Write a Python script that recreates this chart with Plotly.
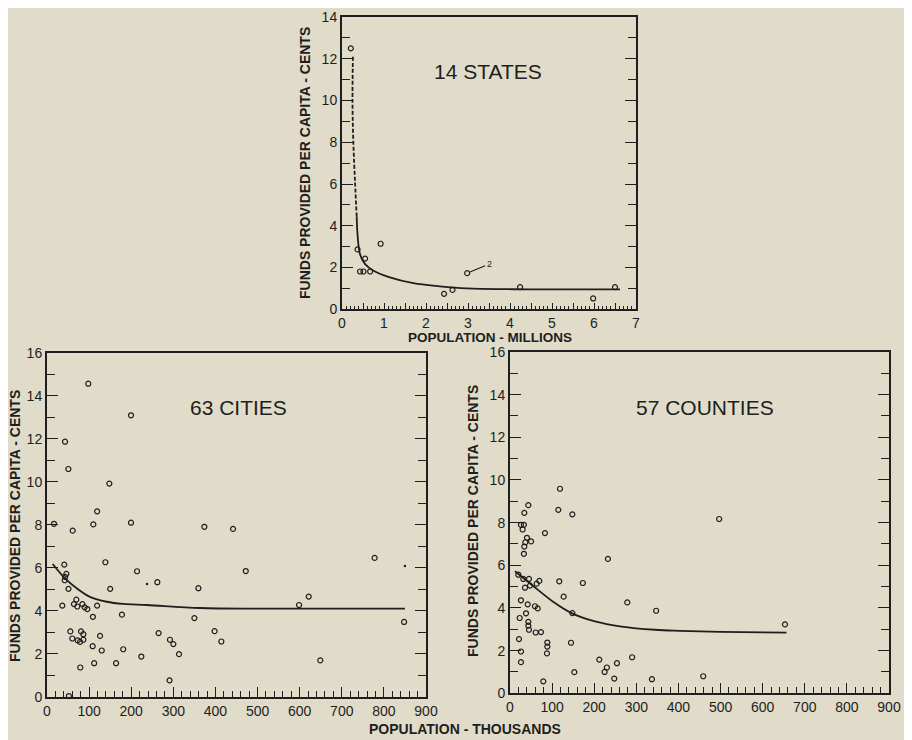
import plotly.graph_objects as go

# ---------------- data ----------------
# 14 States (population in millions, funds in cents per capita)
states_x = [0.21, 0.37, 0.55, 0.43, 0.51, 0.67, 0.92, 2.43, 2.63, 2.98, 4.24, 6.50, 5.98]
states_y = [12.5, 2.87, 2.43, 1.81, 1.81, 1.81, 3.14, 0.74, 0.93, 1.73, 1.06, 1.06, 0.52]
states_fit_dash_x = [0.26, 0.25, 0.27, 0.31, 0.35]
states_fit_dash_y = [12.1, 9.9, 8.0, 6.1, 4.45]
states_fit_x = [0.35, 0.37, 0.43, 0.55, 0.75, 1.14, 1.70, 2.33, 2.97, 4.08, 5.00, 6.62]
states_fit_y = [4.45, 3.58, 2.63, 2.16, 1.85, 1.53, 1.25, 1.10, 1.00, 0.96, 0.95, 0.95]

# 63 Cities (population in thousands)
cities_x = [98, 199.5, 42.8, 50.7, 148, 119, 16.6, 110, 199.5, 61, 373.7, 138.6, 213.8,
            41, 46, 43, 42, 51, 150, 262, 359.5, 36.4, 64, 69.7, 72, 84, 89.5, 95.8,
            119, 109, 178, 350, 55.4, 80.8, 86.3, 60.2, 72.8, 78.4, 86.3, 126, 265,
            108.5, 130, 181, 292, 300, 313.5, 224, 112, 164, 79, 291, 52, 398, 414,
            441.8, 472, 598.6, 621.5, 649, 778, 848]
cities_y = [14.57, 13.1, 11.87, 10.6, 9.92, 8.63, 8.05, 8.02, 8.1, 7.73, 7.91, 6.26, 5.84,
            6.15, 5.72, 5.58, 5.42, 5.02, 5.02, 5.33, 5.05, 4.24, 4.31, 4.52, 4.2, 4.31,
            4.16, 4.08, 4.24, 3.72, 3.82, 3.66, 3.04, 3.04, 2.91, 2.71, 2.62, 2.55, 2.65,
            2.83, 2.96, 2.35, 2.15, 2.21, 2.65, 2.45, 1.98, 1.87, 1.56, 1.56, 1.36, 0.76,
            0.03, 3.05, 2.57, 7.81, 5.85, 4.27, 4.66, 1.69, 6.46, 3.48]
cities_dot_x = [237.5, 850]
cities_dot_y = [5.25, 6.08]
cities_fit_x = [13.5, 42.8, 70.5, 102, 142, 181, 237, 363, 500, 650, 850]
cities_fit_y = [6.18, 5.51, 5.05, 4.65, 4.42, 4.32, 4.27, 4.13, 4.10, 4.10, 4.10]

# 57 Counties (population in thousands)
counties_x = [118.7, 43.5, 34, 114.7, 148, 26, 33, 30, 40.3, 50, 36.4, 34, 33, 83, 232.6,
              19.8, 31.6, 45, 35.6, 47.5, 63.3, 69.6, 117, 173, 127.4, 26, 42, 59.3, 65.8,
              38, 23, 43.5, 43.5, 45, 61, 73.6, 148, 278.5, 347, 21.4, 88.6, 88.6, 87.8,
              144.8, 26, 26, 152.7, 79, 212, 230, 224.7, 254, 290, 247.6, 337, 496.7,
              653, 458.8]
counties_y = [9.59, 8.82, 8.46, 8.6, 8.39, 7.9, 7.9, 7.68, 7.29, 7.12, 7.08, 6.88, 6.54,
              7.51, 6.3, 5.56, 5.36, 5.36, 4.95, 5.05, 5.14, 5.27, 5.25, 5.17, 4.53, 4.36,
              4.17, 4.08, 3.98, 3.75, 3.53, 3.35, 3.17, 2.98, 2.85, 2.87, 3.76, 4.26, 3.87,
              2.54, 2.38, 2.19, 1.87, 2.37, 1.96, 1.46, 0.99, 0.56, 1.58, 1.21, 1.0, 1.41,
              1.69, 0.69, 0.66, 8.17, 3.23, 0.8]
counties_fit_x = [11.9, 51.4, 106.8, 146, 201.7, 265, 344, 403, 500, 656.5]
counties_fit_y = [5.72, 5.09, 4.23, 3.76, 3.37, 3.13, 2.98, 2.93, 2.88, 2.84]

lower_x_ticks = [0, 100, 200, 300, 400, 500, 600, 700, 800, 900]

# ---------------- styling ----------------
BG = "#e0dcc9"
INK = "#1e1e1e"
FONT = "Liberation Sans"
OFF = 8                      # page body margin in the browser
W, H = 912 - OFF, 740 - OFF  # figure size that fits the window


def fx(px):
    return (px - OFF) / W


def fy(py):
    return 1 - (py - OFF) / H


fig = go.Figure()


def pts(x, y, xa, ya, size=5):
    return go.Scatter(x=x, y=y, mode="markers", xaxis=xa, yaxis=ya, cliponaxis=False,
                      marker=dict(symbol="circle-open", size=size, color=INK,
                                  line=dict(width=1.2, color=INK)),
                      showlegend=False, hoverinfo="skip")


def fit(x, y, xa, ya, dash="solid"):
    return go.Scatter(x=x, y=y, mode="lines", xaxis=xa, yaxis=ya, line_shape="spline",
                      line=dict(color=INK, width=1.8, dash=dash),
                      showlegend=False, hoverinfo="skip")


fig.add_trace(fit(states_fit_dash_x, states_fit_dash_y, "x", "y", dash="4px,2px"))
fig.add_trace(fit(states_fit_x, states_fit_y, "x", "y"))
fig.add_trace(pts(states_x, states_y, "x", "y"))

fig.add_trace(fit(cities_fit_x, cities_fit_y, "x2", "y2"))
fig.add_trace(pts(cities_x, cities_y, "x2", "y2"))
fig.add_trace(go.Scatter(x=cities_dot_x, y=cities_dot_y, mode="markers", xaxis="x2", yaxis="y2",
                         marker=dict(size=2.5, color=INK), showlegend=False, hoverinfo="skip"))

fig.add_trace(fit(counties_fit_x, counties_fit_y, "x3", "y3"))
fig.add_trace(pts(counties_x, counties_y, "x3", "y3"))

tickfont = dict(family=FONT, size=14, color=INK)


def xax(domain, rng, tickvals, ticktext, anchor, ticklen, minor_dtick, minor_len):
    return dict(domain=domain, range=rng, anchor=anchor, tickvals=tickvals, ticktext=ticktext,
                ticks="inside", ticklen=ticklen, tickwidth=1.2, tickcolor=INK,
                minor=dict(dtick=minor_dtick, ticklen=minor_len, tickwidth=1.1, tickcolor=INK,
                           ticks="inside", showgrid=False),
                showline=True, linewidth=2, linecolor=INK, mirror=True, automargin=False,
                ticklabeloverflow="allow",
                showgrid=False, zeroline=False, tickfont=tickfont, fixedrange=True)


def yax(domain, rng, top, anchor):
    vals = list(range(0, top + 1, 2))
    return dict(domain=domain, range=rng, anchor=anchor, tickvals=vals,
                ticktext=[str(v) for v in vals],
                ticks="inside", ticklen=11, tickwidth=1.3, tickcolor=INK,
                minor=dict(dtick=1, ticklen=8, tickwidth=1.2, tickcolor=INK,
                           ticks="inside", showgrid=False),
                showline=True, linewidth=2, linecolor=INK, mirror="ticks", automargin=False,
                ticklabeloverflow="allow",
                showgrid=False, zeroline=False, tickfont=tickfont, fixedrange=True)


s_vals = [v / 2 for v in range(0, 15)]
s_text = [str(int(v)) if v == int(v) else "" for v in s_vals]

fig.update_layout(
    width=W, height=H, paper_bgcolor=BG, plot_bgcolor=BG,
    margin=dict(l=0, r=0, t=0, b=0, pad=0, autoexpand=False),
    font=dict(family=FONT, color=INK),
    xaxis=xax([fx(342), fx(636)], [0, 7], s_vals, s_text, "y", 6, 0.1, 3),
    yaxis=yax([fy(309.3), fy(17)], [0, 14], 14, "x"),
    xaxis2=xax([fx(47), fx(426)], [0, 900], lower_x_ticks, [str(v) for v in lower_x_ticks],
               "y2", 10, 20, 6),
    yaxis2=yax([fy(696.7), fy(353)], [0, 16], 16, "x2"),
    xaxis3=xax([fx(510), fx(889)], [0, 900], lower_x_ticks, [str(v) for v in lower_x_ticks],
               "y3", 10, 20, 6),
    yaxis3=yax([fy(693.3), fy(352)], [0, 16], 16, "x3"),
)


def ann(text, px, py, size, bold=False, angle=0):
    return dict(text=f"<b>{text}</b>" if bold else text, x=fx(px), y=fy(py),
                xref="paper", yref="paper", showarrow=False, textangle=angle,
                xanchor="center", yanchor="middle",
                font=dict(family=FONT, size=size, color=INK))


annotations = [
    ann("14 STATES", 488, 72, 21),
    ann("63 CITIES", 239, 407, 21),
    ann("57 COUNTIES", 705, 407, 21),
    ann("FUNDS PROVIDED PER CAPITA - CENTS", 305, 163, 14, True, -90),
    ann("FUNDS PROVIDED PER CAPITA - CENTS", 15, 526, 14, True, -90),
    ann("FUNDS PROVIDED PER CAPITA - CENTS", 473, 521, 14, True, -90),
    ann("POPULATION - MILLIONS", 490, 337, 13.5, True),
    ann("POPULATION - THOUSANDS", 465, 729, 14, True),
    dict(text="2", x=states_x[9], y=states_y[9], xref="x", yref="y", showarrow=True,
         arrowhead=0, arrowwidth=1.1, arrowcolor=INK, ax=22, ay=-9, standoff=3,
         font=dict(family=FONT, size=9, color=INK)),
]
fig.update_layout(annotations=annotations)

fig.write_html("out.html")
